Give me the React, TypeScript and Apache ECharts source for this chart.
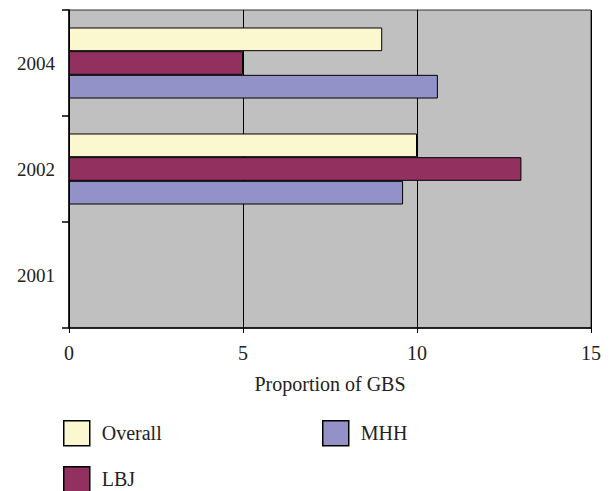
import React, { useEffect, useRef } from "react";
import * as echarts from "echarts";

const categories = ["2001", "2002", "2004"];
const overall = [null, 10, 9];
const lbj = [null, 13, 5];
const mhh = [null, 9.6, 10.6];
const xTicks = [0, 5, 10, 15];

const FONT = "Liberation Serif";

export default function App() {
  const ref = useRef<HTMLDivElement>(null);
  useEffect(() => {
    const chart = echarts.init(ref.current!, null, { renderer: "svg" });
    const barStyle = (c: string) => ({ color: c, borderColor: "#000", borderWidth: 1 });
    const legendItem = (name: string, left: number, top: number) => ({
      data: [name], orient: "horizontal", left, top,
      itemWidth: 26, itemHeight: 25, padding: 0,
      textStyle: { fontFamily: FONT, fontSize: 20, color: "#222", padding: [0, 0, 0, 7] },
      icon: "rect", selectedMode: false,
      itemStyle: { borderColor: "#000", borderWidth: 1.5 },
    });
    chart.setOption({
      animation: false,
      textStyle: { fontFamily: FONT },
      grid: {
        left: 69, top: 10, width: 522, height: 318,
        show: true, backgroundColor: "#c0c0c0", borderColor: "#333", borderWidth: 1,
      },
      legend: [
        legendItem("Overall", 63, 420),
        legendItem("LBJ", 63, 466),
        legendItem("MHH", 322, 420),
      ],
      xAxis: {
        type: "value", min: xTicks[0], max: xTicks[xTicks.length - 1], interval: 5,
        name: "Proportion of GBS", nameLocation: "middle", nameGap: 46,
        nameTextStyle: { fontFamily: FONT, fontSize: 20, color: "#222" },
        axisLine: { show: true, lineStyle: { color: "#000", width: 1.5 } },
        axisTick: { show: true, length: 5, lineStyle: { color: "#000" } },
        axisLabel: { fontFamily: FONT, fontSize: 20, color: "#222", margin: 15 },
        splitLine: { show: true, lineStyle: { color: "#000", width: 1 } },
      },
      yAxis: {
        type: "category", data: categories,
        axisLine: { show: true, lineStyle: { color: "#000", width: 1.5 } },
        axisTick: { show: true, length: 7, interval: 0, lineStyle: { color: "#000", width: 1.5 } },
        axisLabel: { fontFamily: FONT, fontSize: 19, color: "#222", margin: 14 },
        splitLine: { show: false },
      },
      series: [
        { name: "Overall", type: "bar", data: overall, itemStyle: barStyle("#fbf8d0"), barGap: "0%", barCategoryGap: "33%" },
        { name: "LBJ", type: "bar", data: lbj, itemStyle: barStyle("#92305f"), barGap: "0%", barCategoryGap: "33%" },
        { name: "MHH", type: "bar", data: mhh, itemStyle: barStyle("#9292c8"), barGap: "0%", barCategoryGap: "33%" },
      ],
    });
    return () => chart.dispose();
  }, []);
  return <div ref={ref} style={{ width: 612, height: 491, position: "absolute", left: 0, top: 0 }} />;
}
